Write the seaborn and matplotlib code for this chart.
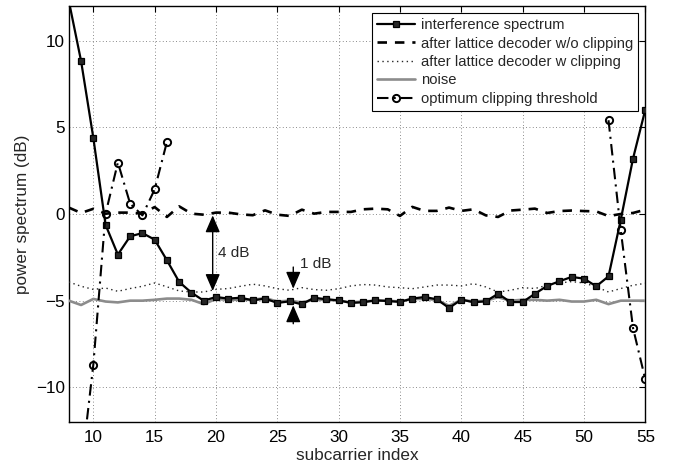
import numpy as np
import pandas as pd
import matplotlib
matplotlib.use("Agg")
import matplotlib.pyplot as plt
import seaborn as sns

# ---------------- data ----------------
subcarrier = list(range(8, 56))

interference = [12.3, 8.83, 4.39, -0.63, -2.34, -1.29, -1.1, -1.48, -2.67, -3.92, -4.54, -5.0,
                -4.79, -4.88, -4.83, -4.98, -4.88, -5.13, -5.04, -5.21, -4.83, -4.92,
                -4.98, -5.13, -5.09, -4.98, -5.02, -5.07, -4.88, -4.79, -4.92, -5.42,
                -4.94, -5.09, -5.04, -4.6, -5.08, -5.08, -4.6, -4.15, -3.88, -3.63,
                -3.73, -4.17, -3.6, -0.33, 3.2, 6.02]

no_clipping = [0.37, 0.06, 0.3, 0.02, 0.08, 0.08, 0.02, 0.4, -0.17, 0.44, 0.02, -0.04,
               0.08, 0.08, -0.02, -0.07, 0.21, -0.04, -0.11, 0.25, 0.02, 0.12,
               0.12, 0.12, 0.27, 0.31, 0.27, -0.11, 0.41, 0.18, 0.18, 0.37,
               0.18, 0.27, -0.08, -0.17, 0.2, 0.25, 0.31, 0.06, 0.17, 0.2,
               0.17, 0.15, -0.12, 0.0, 0.06, 0.25]

with_clipping = [-3.92, -4.17, -4.35, -4.27, -4.46, -4.3, -4.17, -3.98, -4.2, -4.44, -4.5, -4.5,
                 -4.35, -4.3, -4.17, -4.05, -4.15, -4.31, -4.4, -4.25, -4.36, -4.4,
                 -4.31, -4.15, -4.07, -4.1, -4.21, -4.25, -4.31, -4.21, -4.1, -4.1,
                 -4.15, -4.02, -4.21, -4.5, -4.4, -4.25, -4.3, -4.11, -3.98, -3.9,
                 -3.98, -4.2, -4.5, -4.3, -4.11, -4.0]

noise = [-5.0, -5.25, -4.9, -5.05, -5.1, -5.0, -5.0, -4.95, -4.88, -4.88, -4.95, -5.2,
         -4.9, -4.95, -4.95, -4.95, -4.85, -5.05, -5.0, -5.1, -4.95, -4.95,
         -5.0, -5.1, -5.05, -5.0, -5.0, -5.05, -4.9, -4.9, -4.95, -5.3,
         -4.95, -5.05, -5.0, -4.8, -5.0, -4.95, -4.95, -5.0, -4.95, -5.05,
         -5.05, -4.95, -5.2, -5.0, -5.0, -5.0]

thr_left_x = [9, 10, 11, 12, 13, 14, 15, 16]
thr_left = [-14.8, -8.69, 0.02, 2.97, 0.6, -0.08, 1.42, 4.16]
thr_right_x = [52, 53, 54, 55]
thr_right = [5.41, -0.94, -6.58, -9.54]

labels = ["interference spectrum", "after lattice decoder w/o clipping",
          "after lattice decoder w clipping", "noise", "optimum clipping threshold"]

xticks = [10, 15, 20, 25, 30, 35, 40, 45, 50, 55]
yticks = [-10, -5, 0, 5, 10]

# ---------------- style ----------------
sns.set_style("white")
plt.rcParams["font.family"] = ["Liberation Sans", "DejaVu Sans"]
plt.rcParams["axes.unicode_minus"] = True

df = pd.DataFrame({"x": subcarrier, "interf": interference, "noclip": no_clipping,
                   "clip": with_clipping, "noise": noise})
df_tl = pd.DataFrame({"x": thr_left_x, "y": thr_left})
df_tr = pd.DataFrame({"x": thr_right_x, "y": thr_right})

fig = plt.figure(figsize=(6.73, 4.66), dpi=100)
ax = fig.add_axes([68.8 / 673, 1 - 422 / 466, (645.3 - 68.8) / 673, (422 - 6) / 466])

sns.lineplot(data=df, x="x", y="interf", ax=ax, color="k", lw=1.6, marker="s",
             markersize=4.8, markerfacecolor="0.15", markeredgecolor="k",
             markeredgewidth=0.9, label=labels[0], zorder=5)
sns.lineplot(data=df, x="x", y="noclip", ax=ax, color="k", lw=1.9,
             dashes=(3.6, 3.0), label=labels[1], zorder=4)
sns.lineplot(data=df, x="x", y="clip", ax=ax, color="0.15", lw=1.0,
             linestyle=(0, (1, 2.5)), label=labels[2], zorder=3)
sns.lineplot(data=df, x="x", y="noise", ax=ax, color="0.55", lw=1.9,
             label=labels[3], zorder=4)
thr_style = dict(color="k", lw=1.5, linestyle=(0, (5.5, 2.5, 1, 2.5)), marker="o",
                 markersize=5.2, markerfacecolor="none", markeredgecolor="k",
                 markeredgewidth=1.4, zorder=6)
sns.lineplot(data=df_tl, x="x", y="y", ax=ax, label=labels[4], **thr_style)
sns.lineplot(data=df_tr, x="x", y="y", ax=ax, **thr_style)

ax.set_xlim(8, 55)
ax.set_ylim(-12, 12)
ax.set_xticks(xticks)
ax.set_yticks(yticks)
ax.grid(True, color="0.4", linestyle=(0, (1, 3)), linewidth=0.6)
ax.tick_params(direction="in", length=4, width=0.8, top=True, right=True,
               labelsize=12.3, colors="k")
ax.tick_params(axis="x", pad=6)
ax.tick_params(axis="y", pad=3)
for s in ax.spines.values():
    s.set_color("k")
    s.set_linewidth(1.0)

ax.set_xlabel("subcarrier index", fontsize=12.3, labelpad=2)
ax.set_ylabel("power spectrum (dB)", fontsize=12.3, labelpad=4)

# annotations
arr2 = dict(arrowstyle="<|-|>,head_length=0.65,head_width=0.28", color="k", lw=1.0,
            shrinkA=0, shrinkB=0, mutation_scale=16)
arr1 = dict(arrowstyle="-|>,head_length=0.65,head_width=0.28", color="k", lw=1.0,
            shrinkA=0, shrinkB=0, mutation_scale=16)
ax.annotate("", xy=(19.73, -0.08), xytext=(19.73, -4.44), arrowprops=arr2, zorder=7)
ax.text(20.18, -2.25, "4 dB", fontsize=11, va="center", ha="left")
ax.annotate("", xy=(26.3, -4.31), xytext=(26.3, -3.06), arrowprops=arr1, zorder=7)
ax.annotate("", xy=(26.3, -5.27), xytext=(26.3, -6.33), arrowprops=arr1, zorder=7)
ax.text(26.85, -2.9, "1 dB", fontsize=11, va="center", ha="left")

leg = ax.legend(loc="upper right", bbox_to_anchor=(0.9873, 0.983), borderaxespad=0,
                fontsize=10.6, frameon=True, fancybox=False, framealpha=1,
                edgecolor="k", handlelength=2.6, handletextpad=0.35,
                borderpad=0.35, labelspacing=0.3)
leg.get_frame().set_linewidth(0.8)

fig.savefig("out.png", dpi=100)
